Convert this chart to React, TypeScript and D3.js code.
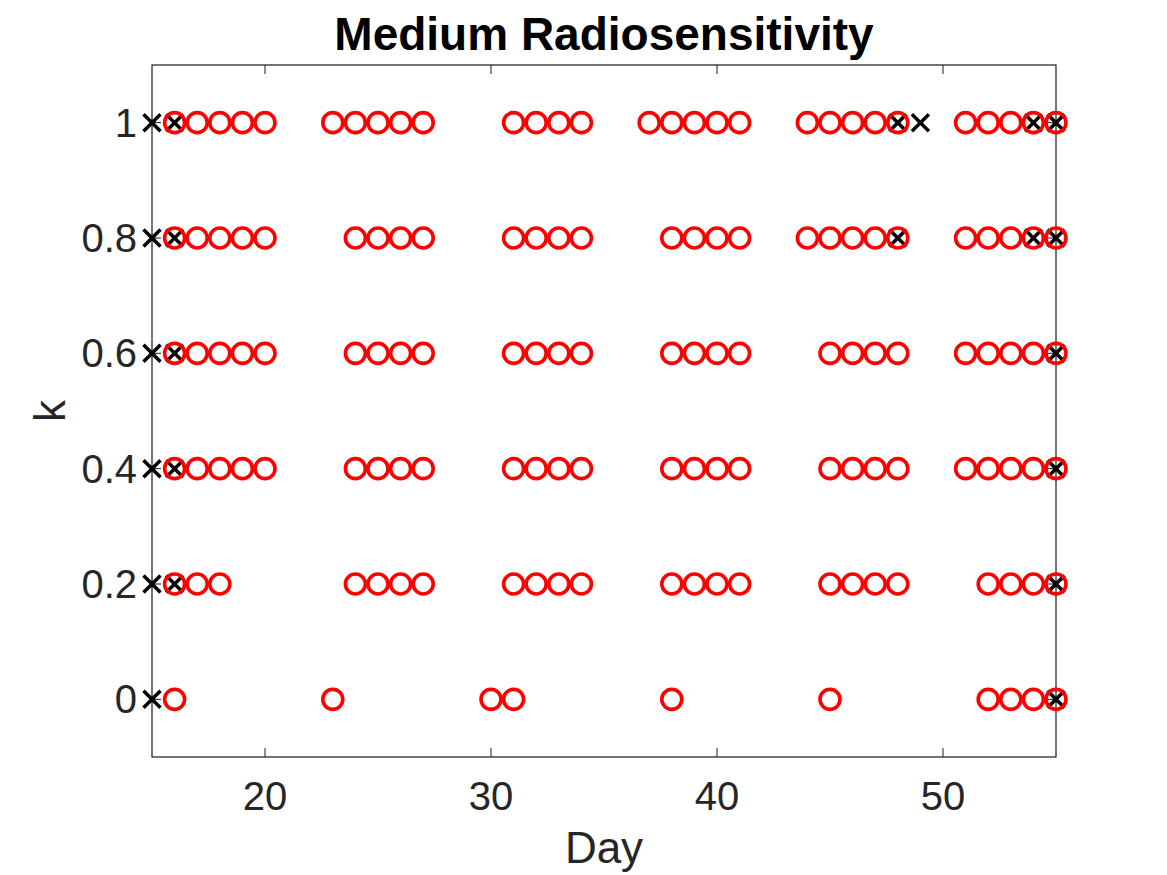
import React from "react";
import * as d3 from "d3";

const kLevels = [0, 0.2, 0.4, 0.6, 0.8, 1];

// Red circle markers: days per k level (same order as kLevels)
const circleDaysK0 = [16, 23, 30, 31, 38, 45, 52, 53, 54, 55];
const circleDaysK02 = [16, 17, 18, 24, 25, 26, 27, 31, 32, 33, 34, 38, 39, 40, 41, 45, 46, 47, 48, 52, 53, 54, 55];
const circleDaysK04 = [16, 17, 18, 19, 20, 24, 25, 26, 27, 31, 32, 33, 34, 38, 39, 40, 41, 45, 46, 47, 48, 51, 52, 53, 54, 55];
const circleDaysK06 = [16, 17, 18, 19, 20, 24, 25, 26, 27, 31, 32, 33, 34, 38, 39, 40, 41, 45, 46, 47, 48, 51, 52, 53, 54, 55];
const circleDaysK08 = [16, 17, 18, 19, 20, 24, 25, 26, 27, 31, 32, 33, 34, 38, 39, 40, 41, 44, 45, 46, 47, 48, 51, 52, 53, 54, 55];
const circleDaysK1 = [16, 17, 18, 19, 20, 23, 24, 25, 26, 27, 31, 32, 33, 34, 37, 38, 39, 40, 41, 44, 45, 46, 47, 48, 51, 52, 53, 54, 55];

// Black cross markers: days per k level
const crossDaysK0 = [15, 55];
const crossDaysK02 = [15, 16, 55];
const crossDaysK04 = [15, 16, 55];
const crossDaysK06 = [15, 16, 55];
const crossDaysK08 = [15, 16, 48, 54, 55];
const crossDaysK1 = [15, 16, 48, 49, 54, 55];

const circleDays = [circleDaysK0, circleDaysK02, circleDaysK04, circleDaysK06, circleDaysK08, circleDaysK1];
const crossDays = [crossDaysK0, crossDaysK02, crossDaysK04, crossDaysK06, crossDaysK08, crossDaysK1];

const xTicks = [20, 30, 40, 50];
const yTicks = [0, 0.2, 0.4, 0.6, 0.8, 1];

const title = "Medium Radiosensitivity";
const xLabel = "Day";
const yLabel = "k";

export default function App() {
  const W = 1167;
  const H = 875;
  const left = 152, right = 1056, top = 65, bottom = 757;
  const x = d3.scaleLinear().domain([15, 55]).range([left, right]);
  const y = d3.scaleLinear().domain([-0.1, 1.1]).range([bottom, top]);
  const axisColor = "#262626";
  const font = "'Liberation Sans', Arial, Helvetica, sans-serif";
  const tickLen = 9;

  const circles: { d: number; k: number }[] = [];
  const crosses: { d: number; k: number }[] = [];
  kLevels.forEach((k, i) => {
    circleDays[i].forEach((d) => circles.push({ d, k }));
    crossDays[i].forEach((d) => crosses.push({ d, k }));
  });
  const cs = 8.5;

  return (
    <svg
      width={W}
      height={H}
      style={{ position: "absolute", left: 0, top: 0, background: "#fff" }}
    >
      <rect x={0} y={0} width={W} height={H} fill="#fff" />
      {/* axes box */}
      <rect
        x={left}
        y={top}
        width={right - left}
        height={bottom - top}
        fill="none"
        stroke="#1a1a1a"
        strokeWidth={1.2}
      />
      {/* x ticks */}
      {xTicks.map((t) => (
        <g key={"xt" + t}>
          <line x1={x(t)} x2={x(t)} y1={bottom} y2={bottom - tickLen} stroke="#1a1a1a" />
          <line x1={x(t)} x2={x(t)} y1={top} y2={top + tickLen} stroke="#1a1a1a" />
          <text
            x={x(t)}
            y={810}
            textAnchor="middle"
            fontFamily={font}
            fontSize={40}
            fill={axisColor}
          >
            {t}
          </text>
        </g>
      ))}
      {/* y ticks */}
      {yTicks.map((t) => (
        <g key={"yt" + t}>
          <line x1={left} x2={left + tickLen} y1={y(t)} y2={y(t)} stroke="#1a1a1a" />
          <line x1={right} x2={right - tickLen} y1={y(t)} y2={y(t)} stroke="#1a1a1a" />
          <text
            x={137}
            y={y(t) + 14}
            textAnchor="end"
            fontFamily={font}
            fontSize={40}
            fill={axisColor}
          >
            {d3.format("~g")(t)}
          </text>
        </g>
      ))}
      {/* crosses (drawn beneath circles) */}
      {crosses.map((p, i) => (
        <g key={"c" + i} transform={`translate(${x(p.d)},${y(p.k)})`} stroke="#000" strokeWidth={3.5}>
          <line x1={-cs} y1={-cs} x2={cs} y2={cs} />
          <line x1={-cs} y1={cs} x2={cs} y2={-cs} />
        </g>
      ))}
      {/* circles */}
      {circles.map((p, i) => (
        <circle
          key={"o" + i}
          cx={x(p.d)}
          cy={y(p.k)}
          r={10}
          fill="none"
          stroke="#ff0000"
          strokeWidth={3.6}
        />
      ))}
      {/* labels */}
      <text
        x={(left + right) / 2}
        y={863}
        textAnchor="middle"
        fontFamily={font}
        fontSize={44}
        fill={axisColor}
      >
        {xLabel}
      </text>
      <text
        transform={`translate(65,${(top + bottom) / 2}) rotate(-90)`}
        textAnchor="middle"
        fontFamily={font}
        fontSize={44}
        fill={axisColor}
      >
        {yLabel}
      </text>
      <text
        x={(left + right) / 2}
        y={50}
        textAnchor="middle"
        fontFamily={font}
        fontWeight="bold"
        fontSize={46}
        fill="#000"
      >
        {title}
      </text>
    </svg>
  );
}
